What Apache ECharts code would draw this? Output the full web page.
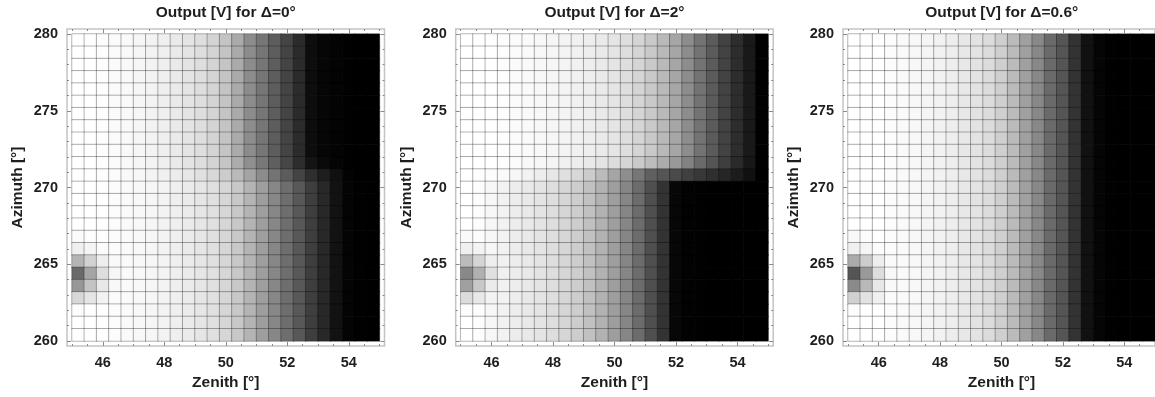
<!DOCTYPE html>
<html><head><meta charset="utf-8">
<script src="https://cdn.jsdelivr.net/npm/echarts@6/dist/echarts.min.js"></script>
<style>html,body{margin:0;padding:0;background:#fff}#c{width:1155px;height:397px}</style>
</head><body><div id="c"></div>
<script>
// ---------------- data ----------------
const panelTitles = ['Output [V] for \u0394=0\u00b0', 'Output [V] for \u0394=2\u00b0', 'Output [V] for \u0394=0.6\u00b0'];
const xAxisName = 'Zenith [\u00b0]';
const yAxisName = 'Azimuth [\u00b0]';
// cell centres
const zenithCenters = [45.2,45.6,46.0,46.4,46.8,47.2,47.6,48.0,48.4,48.8,49.2,49.6,50.0,50.4,50.8,51.2,51.6,52.0,52.4,52.8,53.2,53.6,54.0,54.4,54.8];
const azimuthCenters = [260.4,261.2,262.0,262.8,263.6,264.4,265.2,266.0,266.8,267.6,268.4,269.2,270.0,270.8,271.6,272.4,273.2,274.0,274.8,275.6,276.4,277.2,278.0,278.8,279.6]; // bottom -> top
// tick labels
const zenithTicks = [46,48,50,52,54];
const zenithMinorTicks = [45,45.5,46.5,47,47.5,48.5,49,49.5,50.5,51,51.5,52.5,53,53.5,54.5,55];
const azimuthTicks = [260,265,270,275,280];
const azimuthMinorTicks = [261,262,263,264,266,267,268,269,271,272,273,274,276,277,278,279];

// output level (0 = black ... 255 = white), rows listed from top (279.6) to bottom (260.4)
const delta0Grid = [
[255,255,253,251,249,246,243,239,234,228,222,212,196,170,140,118,93,68,43,13,6,3,1,0,0],
[255,255,253,251,249,246,243,239,234,228,222,212,196,170,140,118,93,68,43,13,6,3,1,0,0],
[255,255,253,251,249,246,243,239,234,228,222,212,196,170,140,118,93,68,43,13,6,3,1,0,0],
[255,255,253,251,249,246,243,239,234,228,222,212,196,170,140,118,93,68,43,13,6,3,1,0,0],
[255,255,253,251,249,246,243,239,234,228,222,212,196,170,140,118,93,68,43,13,6,3,1,0,0],
[255,255,253,251,249,246,243,239,234,228,222,212,196,170,140,118,93,68,43,13,6,3,1,0,0],
[255,255,253,251,249,246,243,239,234,228,222,212,196,170,140,118,93,68,43,13,6,3,1,0,0],
[255,255,253,251,249,246,243,239,234,228,222,212,196,170,140,118,93,68,43,13,6,3,1,0,0],
[255,255,253,251,249,246,243,239,234,228,222,212,196,170,140,118,93,68,43,13,6,3,1,0,0],
[255,255,253,251,249,246,243,239,234,228,222,212,196,170,140,118,93,68,43,13,6,3,1,0,0],
[255,255,253,251,249,246,243,239,234,228,222,212,197,172,143,120,95,70,45,20,10,4,1,0,0],
[255,255,253,251,249,247,244,240,236,230,224,216,204,186,164,140,116,92,68,46,30,16,3,0,0],
[255,255,254,252,250,248,246,243,239,235,230,224,214,200,180,158,135,110,88,62,40,18,4,1,0],
[255,255,254,252,250,248,246,243,239,235,230,224,214,200,180,158,135,110,88,62,40,18,4,1,0],
[255,255,254,252,250,248,246,243,239,235,230,224,214,200,180,158,135,110,88,62,40,18,4,1,0],
[255,255,254,252,250,248,246,243,239,235,230,224,214,200,180,158,135,110,88,62,40,18,4,1,0],
[250,253,254,252,250,248,246,243,239,235,230,224,214,200,180,158,135,110,88,62,40,18,4,1,0],
[240,245,251,252,250,248,246,243,239,235,230,224,214,200,180,158,135,110,88,62,40,18,4,1,0],
[181,210,238,249,250,248,246,243,239,235,230,224,214,200,180,158,135,110,88,62,40,18,4,1,0],
[106,165,222,246,250,248,246,243,239,235,230,224,214,200,180,158,135,110,88,62,40,18,4,1,0],
[151,195,232,248,250,248,246,243,239,235,230,224,214,200,180,158,135,110,88,62,40,18,4,1,0],
[216,229,242,251,250,248,246,243,239,235,230,224,214,200,180,158,135,110,88,62,40,18,4,1,0],
[252,254,254,252,250,248,246,243,239,235,230,224,214,200,180,158,135,110,88,62,40,18,4,1,0],
[255,255,254,252,250,248,246,243,239,235,230,224,214,200,180,158,135,110,88,62,40,18,4,1,0],
[255,255,254,252,250,248,246,243,239,235,230,224,214,200,180,158,135,110,88,62,40,18,4,1,0]
];
const delta2Grid = [
[255,255,255,253,251,250,248,246,244,241,238,234,229,222,213,201,185,166,141,115,91,67,45,25,1],
[255,255,255,253,251,250,248,246,244,241,238,234,229,222,213,201,185,166,141,115,91,67,45,25,1],
[255,255,255,253,251,250,248,246,244,241,238,234,229,222,213,201,185,166,141,115,91,67,45,25,1],
[255,255,255,253,251,250,248,246,244,241,238,234,229,222,213,201,185,166,141,115,91,67,45,25,1],
[255,255,255,253,251,250,248,246,244,241,238,234,229,222,213,201,185,166,141,115,91,67,45,25,1],
[255,255,255,253,251,250,248,246,244,241,238,234,229,222,213,201,185,166,141,115,91,67,45,25,1],
[255,255,255,253,251,250,248,246,244,241,238,234,229,222,213,201,185,166,141,115,91,67,45,25,1],
[255,255,255,253,251,250,248,246,244,241,238,234,229,222,213,201,185,166,141,115,91,67,45,25,1],
[255,255,255,253,251,250,248,246,244,241,238,234,229,222,213,201,185,166,141,115,91,67,45,25,1],
[255,255,255,253,251,250,248,246,244,241,238,234,229,222,213,201,185,166,141,115,91,67,45,25,1],
[255,255,255,253,251,249,247,244,241,237,233,228,221,213,202,189,172,153,130,106,84,62,42,23,1],
[255,254,252,250,247,242,237,231,224,216,204,187,165,142,119,96,85,74,64,56,47,38,28,17,0],
[255,253,247,242,237,233,228,222,214,205,193,178,158,134,108,79,51,7,2,1,0,0,0,0,0],
[255,253,247,242,237,233,228,222,214,205,193,178,158,134,108,79,51,7,2,1,0,0,0,0,0],
[255,253,247,242,237,233,228,222,214,205,193,178,158,134,108,79,51,7,2,1,0,0,0,0,0],
[255,253,247,242,237,233,228,222,214,205,193,178,158,134,108,79,51,7,2,1,0,0,0,0,0],
[250,252,247,242,237,233,228,222,214,205,193,178,158,134,108,79,51,7,2,1,0,0,0,0,0],
[240,244,246,242,237,233,228,222,214,205,193,178,158,134,108,79,51,7,2,1,0,0,0,0,0],
[187,213,238,241,237,233,228,222,214,205,193,178,158,134,108,79,51,7,2,1,0,0,0,0,0],
[136,176,224,240,237,233,228,222,214,205,193,178,158,134,108,79,51,7,2,1,0,0,0,0,0],
[160,200,235,241,237,233,228,222,214,205,193,178,158,134,108,79,51,7,2,1,0,0,0,0,0],
[220,232,243,242,237,233,228,222,214,205,193,178,158,134,108,79,51,7,2,1,0,0,0,0,0],
[252,253,247,242,237,233,228,222,214,205,193,178,158,134,108,79,51,7,2,1,0,0,0,0,0],
[255,253,247,242,237,233,228,222,214,205,193,178,158,134,108,79,51,7,2,1,0,0,0,0,0],
[255,253,247,242,237,233,228,222,214,205,193,178,158,134,108,79,51,7,2,1,0,0,0,0,0]
];
const delta06Grid = [
[255,255,255,252,250,248,245,242,238,232,227,220,207,187,160,136,106,85,51,17,5,1,0,0,0],
[255,255,255,252,250,248,245,242,238,232,227,220,207,187,160,136,106,85,51,17,5,1,0,0,0],
[255,255,255,252,250,248,245,242,238,232,227,220,207,187,160,136,106,85,51,17,5,1,0,0,0],
[255,255,255,252,250,248,245,242,238,232,227,220,207,187,160,136,106,85,51,17,5,1,0,0,0],
[255,255,255,252,250,248,245,242,238,232,227,220,207,187,160,136,106,85,51,17,5,1,0,0,0],
[255,255,255,252,250,248,245,242,238,232,227,220,207,187,160,136,106,85,51,17,5,1,0,0,0],
[255,255,255,252,250,248,245,242,238,232,227,220,207,187,160,136,106,85,51,17,5,1,0,0,0],
[255,255,255,252,250,248,245,242,238,232,227,220,207,187,160,136,106,85,51,17,5,1,0,0,0],
[255,255,255,252,250,248,245,242,238,232,227,220,207,187,160,136,106,85,51,17,5,1,0,0,0],
[255,255,255,252,250,248,245,242,238,232,227,220,207,187,160,136,106,85,51,17,5,1,0,0,0],
[255,255,255,252,250,248,245,242,238,232,227,220,207,187,160,136,106,85,51,17,5,1,0,0,0],
[255,255,255,252,250,248,245,242,238,232,227,220,207,187,160,136,106,85,51,17,5,1,0,0,0],
[255,255,255,252,250,248,245,242,238,232,227,220,207,187,160,136,106,85,51,17,5,1,0,0,0],
[255,255,255,252,250,248,245,242,238,232,227,220,207,187,160,136,106,85,51,17,5,1,0,0,0],
[255,255,255,252,250,248,245,242,238,232,227,220,207,187,160,136,106,85,51,17,5,1,0,0,0],
[255,255,255,252,250,248,245,242,238,232,227,220,207,187,160,136,106,85,51,17,5,1,0,0,0],
[248,252,255,252,250,248,245,242,238,232,227,220,207,187,160,136,106,85,51,17,5,1,0,0,0],
[240,245,252,252,250,248,245,242,238,232,227,220,207,187,160,136,106,85,51,17,5,1,0,0,0],
[170,204,238,250,250,248,245,242,238,232,227,220,207,187,160,136,106,85,51,17,5,1,0,0,0],
[85,153,221,248,250,248,245,242,238,232,227,220,207,187,160,136,106,85,51,17,5,1,0,0,0],
[138,184,232,249,250,248,245,242,238,232,227,220,207,187,160,136,106,85,51,17,5,1,0,0,0],
[208,226,240,251,250,248,245,242,238,232,227,220,207,187,160,136,106,85,51,17,5,1,0,0,0],
[252,255,255,252,250,248,245,242,238,232,227,220,207,187,160,136,106,85,51,17,5,1,0,0,0],
[255,255,255,252,250,248,245,242,238,232,227,220,207,187,160,136,106,85,51,17,5,1,0,0,0],
[255,255,255,252,250,248,245,242,238,232,227,220,207,187,160,136,106,85,51,17,5,1,0,0,0]
];
const panelGrids = [delta0Grid, delta2Grid, delta06Grid];

// ---------------- layout / style ----------------
const FONT = '"Liberation Sans", Arial, Helvetica, sans-serif';
const plotLefts = [72, 460.7, 848];
const plotTop = 34, plotW = 307.5, plotH = 307, pad = 5;
const tickColor = '#8a8a8a';
const labelStyle = {color: '#1e1e1e', fontFamily: FONT, fontWeight: 'bold', fontSize: 14.5};
const nameStyle = {color: '#1e1e1e', fontFamily: FONT, fontWeight: 'bold', fontSize: 15.5};

const option = {
  animation: false,
  backgroundColor: '#ffffff',
  title: [], grid: [], xAxis: [], yAxis: [], series: [],
  visualMap: {
    type: 'continuous', show: false, min: 0, max: 255, dimension: 2,
    seriesIndex: [0, 1, 2],
    inRange: {color: ['#000000', '#ffffff']}
  }
};

function tickAxis(kind, gi, pos, ticks, len, withLabels, name) {
  const a = {
    type: 'value', gridIndex: gi, position: pos, offset: pad,
    min: kind === 'x' ? 45 : 260, max: kind === 'x' ? 55 : 280,
    axisLine: {show: false, onZero: false},
    splitLine: {show: false},
    axisTick: {show: true, inside: true, length: len, customValues: ticks, lineStyle: {color: tickColor, width: 1}},
    axisLabel: withLabels ? Object.assign({show: true, customValues: ticks, margin: 9}, labelStyle) : {show: false},
    axisPointer: {show: false}
  };
  if (name) {
    a.name = name;
    a.nameLocation = 'middle';
    a.nameTextStyle = nameStyle;
    if (kind === 'x') { a.nameGap = 29; } else { a.nameGap = 41; a.nameRotate = 90; }
  }
  return a;
}

plotLefts.forEach((L, k) => {
  const gi = option.grid.length;
  option.grid.push({left: L, top: plotTop, width: plotW, height: plotH, show: false, containLabel: false});
  option.grid.push({left: L - pad, top: plotTop - pad, width: plotW + 2 * pad, height: plotH + 2 * pad,
    show: true, borderColor: '#c4c4c4', borderWidth: 1.5, backgroundColor: 'transparent'});

  option.title.push({text: panelTitles[k], left: L + plotW / 2, top: 5, textAlign: 'center', padding: 0,
    textStyle: Object.assign({}, nameStyle)});

  const catX = option.xAxis.length;
  option.xAxis.push({type: 'category', gridIndex: gi, data: zenithCenters.map(String), show: false, position: 'bottom'});
  option.xAxis.push(tickAxis('x', gi, 'bottom', zenithTicks, 4, true, xAxisName));
  option.xAxis.push(tickAxis('x', gi, 'bottom', zenithMinorTicks, 2, false));
  option.xAxis.push(tickAxis('x', gi, 'top', zenithTicks, 4, false));
  option.xAxis.push(tickAxis('x', gi, 'top', zenithMinorTicks, 2, false));
  option.xAxis.push({type: 'value', gridIndex: gi + 1, show: false});

  const catY = option.yAxis.length;
  option.yAxis.push({type: 'category', gridIndex: gi, data: azimuthCenters.map(String), show: false, position: 'left'});
  option.yAxis.push(tickAxis('y', gi, 'left', azimuthTicks, 4, true, yAxisName));
  option.yAxis.push(tickAxis('y', gi, 'left', azimuthMinorTicks, 2, false));
  option.yAxis.push(tickAxis('y', gi, 'right', azimuthTicks, 4, false));
  option.yAxis.push(tickAxis('y', gi, 'right', azimuthMinorTicks, 2, false));
  option.yAxis.push({type: 'value', gridIndex: gi + 1, show: false});

  const rows = panelGrids[k];
  const data = [];
  const nRows = rows.length;
  rows.forEach((row, r) => {
    const yi = nRows - 1 - r;   // rows are listed from the top
    row.forEach((v, c) => data.push([c, yi, v]));
  });
  option.series.push({
    type: 'heatmap', xAxisIndex: catX, yAxisIndex: catY, data: data,
    silent: true, progressive: 0,
    itemStyle: {borderColor: 'rgba(0,0,0,0.29)', borderWidth: 1},
    emphasis: {disabled: true}
  });
});

const chart = echarts.init(document.getElementById('c'), null, {renderer: 'canvas'});
chart.setOption(option);
</script>
</body></html>
